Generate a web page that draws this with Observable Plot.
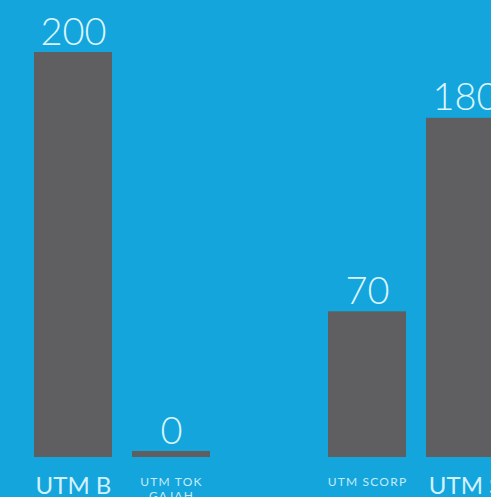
<!DOCTYPE html>
<html>
<head>
<meta charset="utf-8">
<script src="https://cdn.jsdelivr.net/npm/d3@7"></script>
<script src="https://cdn.jsdelivr.net/npm/@observablehq/plot@0.6"></script>
<style>
  html, body { margin: 0; padding: 0; background: #14a5dc; overflow: hidden; }
  #chart svg { display: block; max-width: none !important; height: 497px !important; }
</style>
</head>
<body>
<div id="chart"></div>
<script>
// Categories (third slot is an empty gap in the original chart)
const categories = ["UTM B", "UTM TOK GAJAH", "(gap)", "UTM SCORP", "UTM S"];
// Drawn bar heights
const barValues = [200, 0, null, 70, 167];
// Value labels printed above the bars
const valueLabels = ["200", "0", "", "70", "180"];
// Category labels (large and small styles)
const bigLabels = ["UTM B", "", "", "", "UTM S"];
const smallLabels = ["", "UTM TOK\nGAJAH", "", "UTM SCORP", ""];

const data = categories.map((c, i) => ({
  cat: c, value: barValues[i], label: valueLabels[i], big: bigLabels[i], small: smallLabels[i]
}));
const bars = data.filter(d => d.value != null);

const chart = Plot.plot({
  width: 530,
  height: 497,
  margin: 0,
  style: { background: "#14a5dc", fontFamily: "Lato, 'Open Sans', sans-serif", overflow: "visible", maxWidth: "none" },
  x: { domain: categories, range: [14, 524], padding: 0.2, axis: null },
  y: { domain: [0, 200], range: [457, 58], axis: null },
  marks: [
    Plot.barY(bars, { x: "cat", y: "value", fill: "#5f5f61", insetTop: -6 }),
    Plot.text(bars, { x: "cat", y: "value", text: "label", dy: -14, lineAnchor: "bottom",
      fontSize: 38, fontWeight: 300, fill: "#dcf5ff" }),
    Plot.text(data.filter(d => d.big), { x: "cat", y: 0, text: "big", dy: 36, lineAnchor: "bottom",
      fontSize: 24, fontWeight: 400, fill: "#d3f1fd" }),
    Plot.text(data.filter(d => d.small), { x: "cat", y: 0, text: "small", dy: 19, lineAnchor: "top",
      lineHeight: 1.15, fontSize: 12, fontWeight: 400, fill: "#c4ebfa" })
  ]
});
d3.select(chart).selectAll("g[font-size='12'] text").attr("letter-spacing", "1.2");
document.getElementById("chart").append(chart);
</script>
</body>
</html>
